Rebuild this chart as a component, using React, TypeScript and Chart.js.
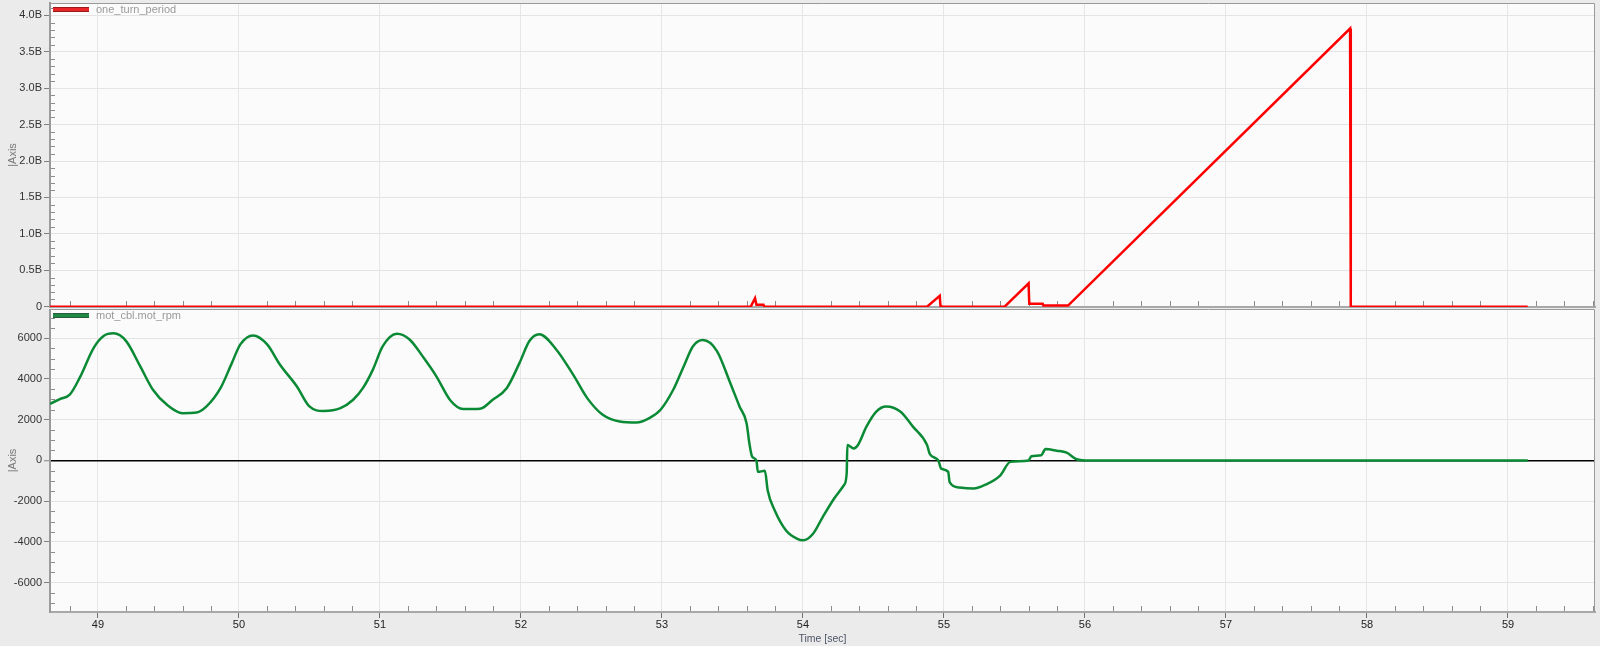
import React, { useEffect, useRef } from 'react';
import { Chart, registerables } from 'chart.js';

Chart.register(...registerables);

// ---- data ----
// one_turn_period (values in billions)
const periodTime = [48.66, 53.63, 53.66, 53.67, 53.72, 53.725, 54.88, 54.97, 54.975, 54.99, 55.43, 55.6, 55.605, 55.7, 55.705, 55.88, 57.88, 57.885, 59.14];
const periodValue = [0, 0, 0.115, 0.025, 0.025, 0, 0, 0.15, 0.01, 0, 0, 0.32, 0.04, 0.04, 0.015, 0.015, 3.82, 0, 0];

// mot_cbl.mot_rpm
const rpmTime = [
  48.66, 48.73, 48.8, 48.87, 48.97, 49.04, 49.11, 49.2, 49.3, 49.39, 49.49, 49.6, 49.7, 49.77, 49.87, 49.95,
  50.01, 50.1, 50.2, 50.29, 50.41, 50.5, 50.6, 50.72, 50.81, 50.88, 50.95, 51.02, 51.12, 51.21, 51.31, 51.4,
  51.5, 51.59, 51.71, 51.8, 51.9, 51.99, 52.06, 52.13, 52.25, 52.37, 52.47, 52.58, 52.7, 52.82, 52.91, 52.99,
  53.08, 53.15, 53.22, 53.29, 53.39, 53.48, 53.55, 53.6, 53.62, 53.64, 53.67, 53.68, 53.73, 53.75, 53.8, 53.88,
  53.96, 54.0, 54.07, 54.14, 54.22, 54.29, 54.31, 54.315, 54.36, 54.39, 54.45, 54.52, 54.59, 54.69, 54.78, 54.88,
  54.9, 54.96, 54.98, 55.03, 55.04, 55.11, 55.21, 55.3, 55.4, 55.47, 55.6, 55.62, 55.69, 55.72, 55.8, 55.87,
  55.94, 56.0, 59.14,
];
const rpmValue = [
  2780, 3010, 3230, 4050, 5530, 6110, 6240, 5860, 4620, 3470, 2730, 2320, 2350, 2650, 3560, 4790,
  5700, 6140, 5700, 4710, 3640, 2650, 2430, 2570, 2980, 3560, 4460, 5610, 6220, 5940, 5040, 4130,
  2940, 2520, 2540, 2980, 3560, 4790, 5860, 6190, 5450, 4210, 3060, 2240, 1910, 1860, 2080, 2490,
  3470, 4550, 5610, 5910, 5370, 3880, 2650, 1830, 840, 180, 0, -560, -510, -1470, -2460, -3440,
  -3850, -3920, -3610, -2780, -1880, -1220, -640, 760, 590, 760, 1660, 2400, 2650, 2400, 1660, 760,
  310, 0, -400, -560, -1060, -1330, -1380, -1170, -730, -70, 0, 210, 260, 560, 480, 380,
  60, 0, 0,
];

// ticks
const timeTicks = [49, 50, 51, 52, 53, 54, 55, 56, 57, 58, 59];
const timeTickLabels = ['49', '50', '51', '52', '53', '54', '55', '56', '57', '58', '59'];
const periodTicks = [0, 0.5, 1.0, 1.5, 2.0, 2.5, 3.0, 3.5, 4.0];
const periodTickLabels = ['0', '0.5B', '1.0B', '1.5B', '2.0B', '2.5B', '3.0B', '3.5B', '4.0B'];
const rpmTicks = [-6000, -4000, -2000, 0, 2000, 4000, 6000];
const rpmTickLabels = ['-6000', '-4000', '-2000', '0', '2000', '4000', '6000'];

const FONT = '"Liberation Sans", Arial, sans-serif';

function range(a: number, b: number, step: number): number[] {
  const out: number[] = [];
  for (let v = a; v <= b + 1e-9; v += step) out.push(Math.round(v * 1000) / 1000);
  return out;
}

const timeMinor = range(48.8, 59.6, 0.2).filter((v) => Math.abs(v - Math.round(v)) > 1e-6);
const periodMinor = range(0, 4.1, 0.1).filter((v) => Math.abs(v * 2 - Math.round(v * 2)) > 1e-6);
const rpmMinor = range(-7000, 7000, 500).filter((v) => v % 2000 !== 0);

function makePanelPlugin(label: string, color: string, dark: string, yMinor: number[], bgBottomExtra: number | null) {
  return {
    id: 'panel_' + label,
    beforeDraw(chart: any) {
      const { ctx, chartArea: a, width, height } = chart;
      ctx.save();
      ctx.fillStyle = '#ebebeb';
      const h = bgBottomExtra === null ? height : Math.min(height, a.bottom + bgBottomExtra);
      ctx.fillRect(0, 0, width, h);
      ctx.fillStyle = '#fbfbfb';
      ctx.fillRect(a.left, a.top, a.right - a.left, a.bottom - a.top);
      ctx.restore();
    },
    beforeDatasetsDraw(chart: any) {
      const { ctx, chartArea: a } = chart;
      const xs = chart.scales.x;
      const ys = chart.scales.y;
      ctx.save();
      ctx.strokeStyle = '#8c8c8c';
      ctx.lineWidth = 1;
      ctx.beginPath();
      for (const v of yMinor) {
        const py = Math.round(ys.getPixelForValue(v)) + 0.5;
        if (py < a.top || py > a.bottom) continue;
        ctx.moveTo(a.left + 1, py);
        ctx.lineTo(a.left + 5, py);
      }
      for (const v of timeMinor) {
        const px = Math.round(xs.getPixelForValue(v)) + 0.5;
        if (px < a.left || px > a.right) continue;
        ctx.moveTo(px, a.bottom - 1);
        ctx.lineTo(px, a.bottom - 6);
      }
      ctx.stroke();
      ctx.strokeStyle = '#9a9a9a';
      ctx.beginPath();
      ctx.moveTo(a.left, a.top + 0.5);
      ctx.lineTo(a.right - 0.5, a.top + 0.5);
      ctx.lineTo(a.right - 0.5, a.bottom);
      ctx.stroke();
      ctx.restore();
    },
    afterDraw(chart: any) {
      const { ctx, chartArea: a } = chart;
      ctx.save();
      const ly = a.top + 6.5;
      ctx.fillStyle = dark;
      ctx.fillRect(a.left + 3, ly - 2.5, 36, 5);
      ctx.fillStyle = color;
      ctx.fillRect(a.left + 3, ly - 1.5, 36, 3);
      ctx.font = '11px ' + FONT;
      ctx.fillStyle = '#9a9a9a';
      ctx.textBaseline = 'middle';
      ctx.textAlign = 'left';
      ctx.fillText(label, a.left + 46, ly);
      ctx.restore();
    },
  };
}

function yScale(min: number, max: number, ticks: number[], labels: string[], zeroBlack: boolean) {
  return {
    type: 'linear',
    min,
    max,
    afterBuildTicks: (s: any) => {
      s.ticks = ticks.map((v) => ({ value: v }));
    },
    afterFit: (s: any) => {
      s.width = 50;
      s.paddingTop = 0;
      s.paddingBottom = 0;
    },
    ticks: {
      autoSkip: false,
      padding: 2,
      color: '#333',
      font: { family: FONT, size: 11 },
      callback: (v: number) => {
        const i = ticks.indexOf(v);
        return i >= 0 ? labels[i] : '';
      },
    },
    grid: {
      color: (c: any) => (zeroBlack && c.tick && c.tick.value === 0 ? '#000000' : '#e4e4e4'),
      lineWidth: (c: any) => (zeroBlack && c.tick && c.tick.value === 0 ? 1.5 : 1),
      tickColor: '#808080',
      tickLength: 6,
      tickWidth: 1,
    },
    border: { display: true, color: '#9a9a9a', width: 2 },
    title: {
      display: true,
      text: '|Axis',
      color: '#777',
      font: { family: FONT, size: 11 },
      padding: { top: 6, bottom: 0 },
    },
  };
}

function xScale(showLabels: boolean, height: number) {
  return {
    type: 'linear',
    min: 48.66,
    max: 59.617,
    afterBuildTicks: (s: any) => {
      s.ticks = timeTicks.map((v) => ({ value: v }));
    },
    afterFit: (s: any) => {
      s.height = height;
      s.paddingLeft = 0;
      s.paddingRight = 0;
    },
    ticks: {
      display: showLabels,
      autoSkip: false,
      maxRotation: 0,
      padding: 0,
      color: '#222',
      font: { family: FONT, size: 11 },
      callback: (v: number) => {
        const i = timeTicks.indexOf(v);
        return i >= 0 ? timeTickLabels[i] : '';
      },
    },
    grid: {
      color: '#e6e6e6',
      lineWidth: 1,
      drawTicks: showLabels,
      tickColor: '#707070',
      tickLength: 6,
      tickWidth: 1,
    },
    border: { display: true, color: '#a8a8a8', width: 2 },
    title: {
      display: showLabels,
      text: 'Time [sec]',
      color: '#4d5566',
      font: { family: FONT, size: 10.5 },
      padding: { top: 0, bottom: 1 },
    },
  };
}

export default function App() {
  const topRef = useRef<HTMLCanvasElement>(null);
  const botRef = useRef<HTMLCanvasElement>(null);

  useEffect(() => {
    const botChart = new Chart(botRef.current as HTMLCanvasElement, {
      type: 'line',
      data: {
        datasets: [
          {
            label: 'mot_cbl.mot_rpm',
            data: rpmTime.map((t, i) => ({ x: t, y: rpmValue[i] })),
            borderColor: '#0b8a35',
            backgroundColor: '#0b8a35',
            borderWidth: 2.5,
            pointRadius: 0,
            cubicInterpolationMode: 'monotone',
          },
        ],
      },
      options: {
        animation: false,
        responsive: false,
        maintainAspectRatio: false,
        devicePixelRatio: 1,
        layout: { padding: { top: 1, right: 5, left: 0, bottom: 0 } },
        plugins: { legend: { display: false }, tooltip: { enabled: false } },
        scales: {
          x: xScale(true, 34) as any,
          y: yScale(-7440, 7435, rpmTicks, rpmTickLabels, true) as any,
        },
      },
      plugins: [makePanelPlugin('mot_cbl.mot_rpm', '#1f8a45', '#2b5a3a', rpmMinor, null)],
    } as any);

    const topChart = new Chart(topRef.current as HTMLCanvasElement, {
      type: 'line',
      data: {
        datasets: [
          {
            label: 'one_turn_period',
            data: periodTime.map((t, i) => ({ x: t, y: periodValue[i] })),
            borderColor: '#ff0000',
            backgroundColor: '#ff0000',
            borderWidth: 2.5,
            pointRadius: 0,
            tension: 0,
          },
        ],
      },
      options: {
        animation: false,
        responsive: false,
        maintainAspectRatio: false,
        devicePixelRatio: 1,
        layout: { padding: { top: 3, right: 5, left: 0, bottom: 7 } },
        plugins: { legend: { display: false }, tooltip: { enabled: false } },
        scales: {
          x: xScale(false, 2) as any,
          y: yScale(-0.005, 4.17, periodTicks, periodTickLabels, false) as any,
        },
      },
      plugins: [makePanelPlugin('one_turn_period', '#e8262a', '#9b1b1b', periodMinor, 2)],
    } as any);

    return () => {
      topChart.destroy();
      botChart.destroy();
    };
  }, []);

  return (
    <div style={{ position: 'absolute', left: 0, top: 0, width: 1600, height: 646, background: '#ebebeb', overflow: 'hidden' }}>
      <canvas ref={botRef} width={1600} height={338} style={{ position: 'absolute', left: 0, top: 308 }} />
      <canvas ref={topRef} width={1600} height={316} style={{ position: 'absolute', left: 0, top: 0 }} />
    </div>
  );
}
